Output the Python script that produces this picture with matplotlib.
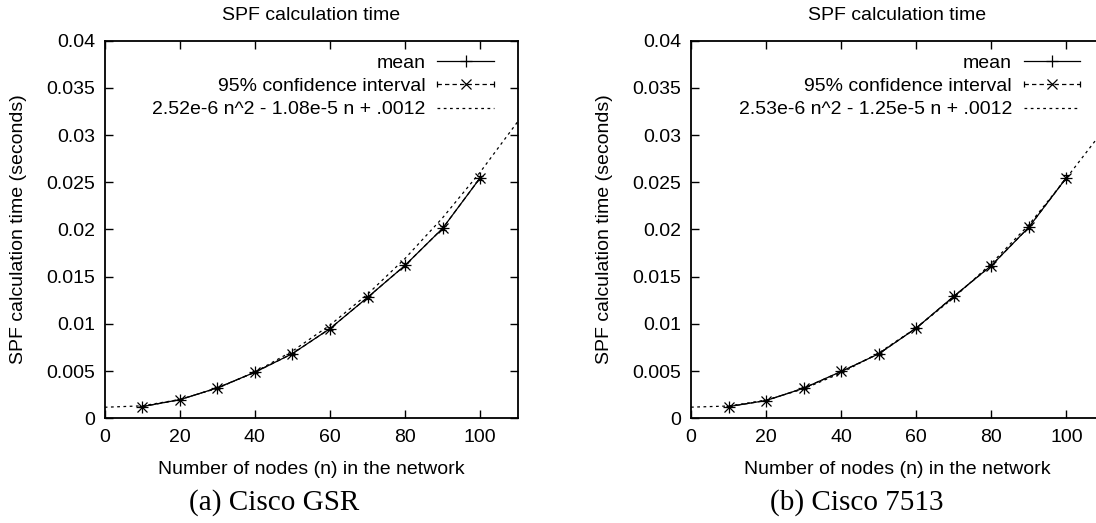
import numpy as np
import matplotlib
matplotlib.use("Agg")
import matplotlib.pyplot as plt
from matplotlib.lines import Line2D
from matplotlib.legend_handler import HandlerLine2D

plt.rcParams['font.family'] = ['Liberation Sans', 'DejaVu Sans']

# node counts of the measurements
nodes = [10, 20, 30, 40, 50, 60, 70, 80, 90, 100]

# (a) Cisco GSR
gsr_mean = [0.00124, 0.00197, 0.00322, 0.00488, 0.00685, 0.00950, 0.01280, 0.01620, 0.02012, 0.02547]
gsr_ci_half = [0.00005, 0.00006, 0.00008, 0.00010, 0.00012, 0.00015, 0.00018, 0.00020, 0.00022, 0.00025]
# (b) Cisco 7513
c7513_mean = [0.00124, 0.00188, 0.00319, 0.00496, 0.00683, 0.00956, 0.01292, 0.01618, 0.02025, 0.02549]
c7513_ci_half = [0.00005, 0.00006, 0.00008, 0.00010, 0.00012, 0.00015, 0.00018, 0.00020, 0.00022, 0.00025]

# quadratic fit curves
fit_n = [0, 10, 20, 30, 40, 50, 60, 70, 80, 90, 100, 110]
gsr_fit = [0.00117, 0.00132, 0.00199, 0.00318, 0.00489, 0.00712, 0.00987, 0.01314, 0.01693, 0.02124, 0.02607, 0.03142]
c7513_fit = [0.00118, 0.00130, 0.00192, 0.00312, 0.00480, 0.00692, 0.00958, 0.01278, 0.01640, 0.02050, 0.02545, 0.03060]

gsr_fit_label = "2.52e-6 n^2 - 1.08e-5 n + .0012"
c7513_fit_label = "2.53e-6 n^2 - 1.25e-5 n + .0012"

xticks = [0, 20, 40, 60, 80, 100]
yticks = [0, 0.005, 0.01, 0.015, 0.02, 0.025, 0.03, 0.035, 0.04]
ytick_labels = ["0", "0.005", "0.01", "0.015", "0.02", "0.025", "0.03", "0.035", "0.04"]

FS = 14
W, H = 1096, 523
fig = plt.figure(figsize=(W / 100, H / 100), dpi=100)

ax_w, ax_h = 413.0, 377.6
ax_bottom = 418.3


def draw_panel(left_px, mean, ci_half, fit, fit_label):
    ax = fig.add_axes([left_px / W, (H - ax_bottom) / H, ax_w / W, ax_h / H])
    mean = np.array(mean)
    ci = np.array(ci_half)

    ax.plot(fit_n, fit, color='black', lw=0.9, ls=(0, (2.2, 2.8)))
    ax.plot(nodes, mean, color='black', lw=0.9, marker='+', ms=8, mew=0.9)
    ax.errorbar(nodes, mean, yerr=ci, fmt='x', ls=(0, (3.5, 2.5)), color='black',
                lw=0.9, ms=7, mew=0.9, capsize=2.5, elinewidth=0.9)

    ax.set_xlim(0, 110)
    ax.set_ylim(0, 0.04)
    ax.set_xticks(xticks)
    ax.set_yticks(yticks)
    ax.set_yticklabels(ytick_labels)
    ax.tick_params(direction='in', top=True, right=True, length=6, width=1,
                   labelsize=FS)
    ax.tick_params(axis='x', pad=8)
    ax.tick_params(axis='y', pad=7)
    for s in ax.spines.values():
        s.set_linewidth(1.3)

    ax.set_title("SPF calculation time", fontsize=FS, pad=15)
    ax.set_xlabel("Number of nodes (n) in the network", fontsize=FS)
    ax.set_ylabel("SPF calculation time (seconds)", fontsize=FS)
    ax.xaxis.set_label_coords(0.5, -0.112)
    ax.yaxis.set_label_coords(-0.188, 0.5)

    h_mean = Line2D([], [], color='black', lw=0.9, marker='+', ms=8, mew=0.9)
    h_ci = Line2D([], [], color='black', lw=0.9, ls=(0, (3.5, 2.5)), marker='x', ms=7, mew=0.9)
    h_caps = Line2D([], [], color='black', ls='none', marker='|', ms=5, mew=0.9)
    h_fit = Line2D([], [], color='black', lw=0.9, ls=(0, (2.2, 2.8)))
    ax.legend([h_mean, (h_ci, h_caps), h_fit],
              ["mean", "95% confidence interval", fit_label],
              loc='upper right', bbox_to_anchor=(0.942, 0.965), borderaxespad=0,
              borderpad=0, frameon=False, markerfirst=False, fontsize=FS,
              handlelength=2.9, handletextpad=0.6, labelspacing=0.3,
              numpoints=1, handler_map={h_caps: HandlerLine2D(numpoints=2, marker_pad=0)})
    return ax


draw_panel(104.7, gsr_mean, gsr_ci_half, gsr_fit, gsr_fit_label)
draw_panel(691.0, c7513_mean, c7513_ci_half, c7513_fit, c7513_fit_label)

fig.text(273.8 / W, 1 - 503 / H, "(a) Cisco GSR", ha='center', va='center',
         fontsize=21, family=['Liberation Serif', 'DejaVu Serif'])
fig.text(857 / W, 1 - 503 / H, "(b) Cisco 7513", ha='center', va='center',
         fontsize=21, family=['Liberation Serif', 'DejaVu Serif'])

fig.savefig("out.png", dpi=100)
